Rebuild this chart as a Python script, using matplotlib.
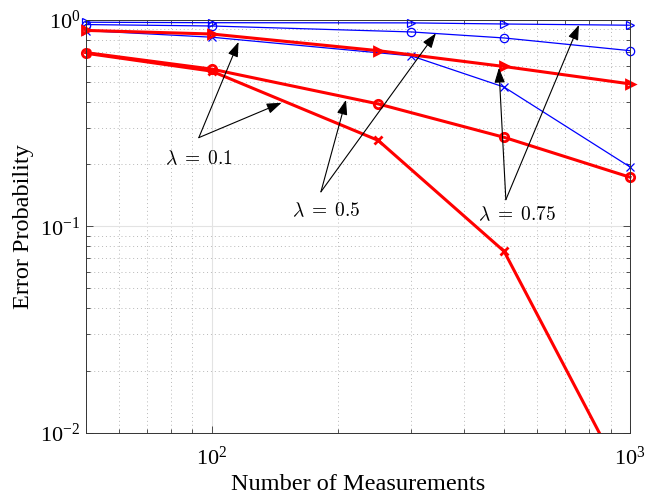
import numpy as np
import matplotlib
matplotlib.use("Agg")
import matplotlib.pyplot as plt

plt.rcParams["font.family"] = ["Liberation Serif", "DejaVu Serif"]
plt.rcParams["mathtext.fontset"] = "cm"
plt.rcParams["axes.unicode_minus"] = False

# %% Data
n_red = [50, 100, 250, 500, 1000]
n_blue = [50, 100, 300, 500, 1000]

# blue: thin lines
blue_x = [0.888, 0.825, 0.67, 0.473, 0.194]     # lambda = 0.1
blue_o = [0.95, 0.935, 0.875, 0.818, 0.71]      # lambda = 0.5
blue_tri = [0.975, 0.97, 0.968, 0.956, 0.943]   # lambda = 0.75

# red: thick lines
red_x = [0.69, 0.565, 0.261, 0.0757, 0.0052]    # lambda = 0.1
red_o = [0.695, 0.578, 0.392, 0.27, 0.173]      # lambda = 0.5
red_tri = [0.89, 0.855, 0.71, 0.595, 0.49]      # lambda = 0.75

# annotation labels: text position, arrow tail, arrow heads (data coords)
labels = ["$\\lambda\\;=\\;0.1$", "$\\lambda\\;=\\;0.5$", "$\\lambda\\;=\\;0.75$"]
label_pos = [(93.2, 0.213), (188, 0.119), (537, 0.113)]
arrow_tail = [(93.2, 0.269), (182.5, 0.147), (505, 0.1346)]
arrow_heads = [
    [(116, 0.783), (147, 0.397)],
    [(209.5, 0.410), (343.6, 0.862)],
    [(486, 0.586), (755, 0.946)],
]

# %% Figure
fig = plt.figure(figsize=(6.57, 4.99), dpi=100)
ax = fig.add_axes([0.1304, 0.1329, 0.8285, 0.8271])

RED = "#ff0000"
BLUE = "#0000ff"
blue_kw = dict(color=BLUE, lw=0.9, ms=6, mfc="none", mew=0.9, clip_on=False)
red_kw = dict(color=RED, lw=2.2, ms=6, mfc="none", mew=2.0)

ax.plot(n_blue, blue_x, marker="x", **blue_kw)
ax.plot(n_blue, blue_o, marker="o", **blue_kw)
ax.plot(n_blue, blue_tri, marker=">", **blue_kw)
# red x line runs below the axis floor, so keep it clipped
ax.plot(n_red, red_x, marker="x", **red_kw)
ax.plot(n_red, red_o, marker="o", clip_on=False, **red_kw)
ax.plot(n_red, red_tri, marker=">", clip_on=False, **red_kw)

ax.set_xscale("log")
ax.set_yscale("log")
ax.set_xlim(50, 1000)
ax.set_ylim(0.01, 1)

ax.grid(which="major", color="#e3e3e3", lw=0.8, ls="-")
ax.grid(which="minor", color="#b8b8b8", lw=0.7, ls=(0, (1, 3)))
ax.set_axisbelow(True)

ax.tick_params(which="both", direction="in", top=True, right=True,
               labelsize=16, width=0.6, color="#333333")
ax.tick_params(which="major", length=5)
ax.tick_params(which="minor", length=3)
ax.tick_params(axis="x", pad=10)
ax.tick_params(axis="y", pad=4)
for sp in ax.spines.values():
    sp.set_linewidth(0.7)
    sp.set_color("#333333")

ax.set_xlabel("Number of Measurements", fontsize=17.5, labelpad=3)
ax.set_ylabel("Error Probability", fontsize=17.5, labelpad=4)

for txt, pos, tail, heads in zip(labels, label_pos, arrow_tail, arrow_heads):
    ax.text(pos[0], pos[1], txt, fontsize=14, ha="center", va="center")
    for head in heads:
        ax.annotate("", xy=head, xytext=tail,
                    arrowprops=dict(arrowstyle="-|>,head_length=0.9,head_width=0.32",
                                    color="black", lw=0.8,
                                    shrinkA=0, shrinkB=0))

fig.savefig("out.png", dpi=100)
